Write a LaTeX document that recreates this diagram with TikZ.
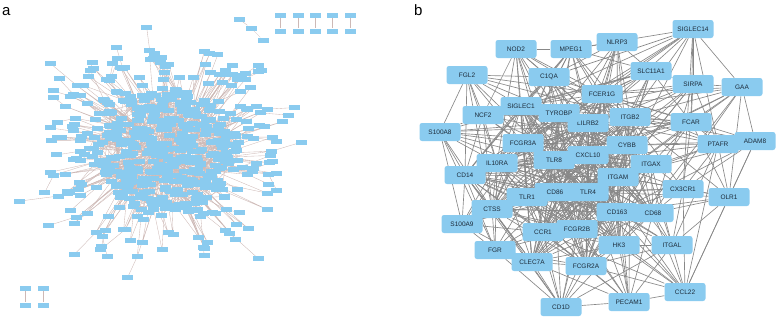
\documentclass[tikz,border=0pt]{standalone}
\usepackage{fontspec}
\setmainfont{Liberation Sans}
\usetikzlibrary{positioning}
\definecolor{geneBlue}{HTML}{8ACBEF}
\definecolor{edgeGrey}{HTML}{888888}
\definecolor{edgeRose}{HTML}{CDB9B6}
\definecolor{labelInk}{HTML}{1C2B3A}
\pgfdeclarelayer{edges}
\pgfsetlayers{edges,main}

\begin{document}
\begin{tikzpicture}[
    x=1pt,y=-1pt,
    gene/.style={fill=geneBlue,rounded corners=2.5pt,minimum width=41pt,
      minimum height=18pt,inner sep=0pt,text=labelInk,
      font=\fontsize{6.5}{7}\selectfont},
    mini/.style={fill=geneBlue,minimum width=11pt,minimum height=5pt,inner sep=0pt},
    link/.style={draw=edgeGrey,line width=0.65pt},
    alink/.style={draw=edgeRose,line width=0.35pt},
    panel/.style={font=\fontsize{15}{15}\selectfont,anchor=base west,inner sep=0pt}
  ]
  \useasboundingbox (0,0) rectangle (777,319);
  \node[panel] (lbla) at (2,15) {a};
  \node[panel] (lblb) at (414,15) {b};

  % panel a: dense core, ordered by angle
  \pgfmathsetseed{11}
  \foreach \i in {1,...,380}{
    \pgfmathsetmacro{\ang}{0.947*\i+10*rnd}
    \pgfmathsetmacro{\rad}{sqrt(rnd)}
    \node[mini] (c\i) at ({166+74*\rad*cos(\ang)},{152+64*\rad*sin(\ang)}) {};
  }
  \begin{pgfonlayer}{edges}
    \foreach \i in {1,...,380}{
      \pgfmathtruncatemacro{\j}{mod(\i+random(1,40),380)+1}
      \pgfmathtruncatemacro{\k}{random(1,380)}
      \draw[alink] (c\i.center) -- (c\j.center) (c\i.center) -- (c\k.center);
    }
  \end{pgfonlayer}
  % panel a: outer ring and leaves
  \foreach \i in {1,...,140}{
    \pgfmathsetmacro{\ang}{360*rnd}
    \pgfmathsetmacro{\rad}{1.0+0.6*rnd}
    \node[mini] (r\i) at ({166+76*\rad*cos(\ang)},{152+68*\rad*sin(\ang)}) {};
    \pgfmathtruncatemacro{\j}{mod(round(\ang/0.947)+random(0,16)+372,380)+1}
    \pgfmathtruncatemacro{\k}{mod(round(\ang/0.947)+random(0,16)+372,380)+1}
    \begin{pgfonlayer}{edges}
      \draw[alink] (r\i.center) -- (c\j.center) (r\i.center) -- (c\k.center);
    \end{pgfonlayer}
    \pgfmathtruncatemacro{\leaf}{rnd<0.35}
    \ifnum\leaf=1
      \pgfmathsetmacro{\lang}{\ang+16*rnd-8}
      \pgfmathsetmacro{\lrad}{\rad+0.25+0.45*rnd}
      \node[mini] (l\i) at ({166+70*\lrad*cos(\lang)},{152+63*\lrad*sin(\lang)}) {};
      \begin{pgfonlayer}{edges}
        \draw[alink] (l\i.center) -- (r\i.center);
      \end{pgfonlayer}
    \fi
  }
  % panel a: small components
  \node[mini] (t1) at (239,19) {};
  \node[mini] (t2) at (251,28) {};
  \node[mini] (t3) at (263,40) {};
  \draw[alink] (t1) -- (t2) -- (t3);
  \foreach \x [count=\n] in {280,298,315,332,350}{
    \node[mini] (pu\n) at (\x,15) {};
    \node[mini] (pd\n) at (\x,31) {};
    \draw[alink] (pu\n) -- (pd\n);
  }
  \foreach \x [count=\n] in {25,43}{
    \node[mini] (qu\n) at (\x,288) {};
    \node[mini] (qd\n) at (\x,305) {};
    \draw[alink] (qu\n) -- (qd\n);
  }

  % panel b
  \node[gene] (siglec14) at (693,29) {SIGLEC14};
  \node[gene] (nod2) at (516,49) {NOD2};
  \node[gene] (mpeg1) at (571,49) {MPEG1};
  \node[gene] (nlrp3) at (617,42) {NLRP3};
  \node[gene] (fgl2) at (467,75) {FGL2};
  \node[gene] (c1qa) at (549,77) {C1QA};
  \node[gene] (slc11a1) at (651,71) {SLC11A1};
  \node[gene] (sirpa) at (693,84) {SIRPA};
  \node[gene] (gaa) at (742,87) {GAA};
  \node[gene] (fcer1g) at (602,94) {FCER1G};
  \node[gene] (siglec1) at (521,106) {SIGLEC1};
  \node[gene] (ncf2) at (483,115) {NCF2};
  \node[gene] (lilrb2) at (588,123) {LILRB2};
  \node[gene] (tyrobp) at (559,113) {TYROBP};
  \node[gene] (itgb2) at (630,117) {ITGB2};
  \node[gene] (fcar) at (691,122) {FCAR};
  \node[gene] (s100a8) at (440,132) {S100A8};
  \node[gene] (adam8) at (755,141) {ADAM8};
  \node[gene] (ptafr) at (718,144) {PTAFR};
  \node[gene] (fcgr3a) at (523,143) {FCGR3A};
  \node[gene] (cybb) at (627,145) {CYBB};
  \node[gene] (cxcl10) at (588,155) {CXCL10};
  \node[gene] (tlr8) at (554,160) {TLR8};
  \node[gene] (il10ra) at (497,163) {IL10RA};
  \node[gene] (itgax) at (651,164) {ITGAX};
  \node[gene] (cd14) at (465,175) {CD14};
  \node[gene] (itgam) at (618,177) {ITGAM};
  \node[gene] (cx3cr1) at (683,189) {CX3CR1};
  \node[gene] (olr1) at (729,197) {OLR1};
  \node[gene] (tlr1) at (527,197) {TLR1};
  \node[gene] (cd86) at (555,192) {CD86};
  \node[gene] (tlr4) at (588,192) {TLR4};
  \node[gene] (ctss) at (492,209) {CTSS};
  \node[gene] (cd163) at (617,212) {CD163};
  \node[gene] (cd68) at (653,213) {CD68};
  \node[gene] (s100a9) at (462,224) {S100A9};
  \node[gene] (ccr1) at (543,232) {CCR1};
  \node[gene] (fcgr2b) at (577,229) {FCGR2B};
  \node[gene] (hk3) at (619,245) {HK3};
  \node[gene] (itgal) at (672,245) {ITGAL};
  \node[gene] (fgr) at (495,250) {FGR};
  \node[gene] (clec7a) at (532,262) {CLEC7A};
  \node[gene] (fcgr2a) at (586,266) {FCGR2A};
  \node[gene] (ccl22) at (685,292) {CCL22};
  \node[gene] (pecam1) at (629,302) {PECAM1};
  \node[gene] (cd1d) at (561,307) {CD1D};

  \def\hubs{tyrobp,fcer1g,itgb2,lilrb2,cybb,cxcl10,tlr8,fcgr3a,siglec1,il10ra,cd14,itgax,itgam,tlr1,cd86,tlr4,ctss,cd163,cd68,ccr1,fcgr2b,hk3,fcgr2a,clec7a}
  \begin{pgfonlayer}{edges}
    \foreach \u [count=\i] in \hubs{
      \foreach \v [count=\j] in \hubs{
        \ifnum\j>\i \draw[link] (\u) -- (\v); \fi
      }
    }
    \foreach \p/\hs in {
      siglec14/{fcer1g,tyrobp,lilrb2,itgb2,c1qa,siglec1,fcgr3a,mpeg1,sirpa,fcar,ptafr,cx3cr1,itgam},
      nod2/{mpeg1,tyrobp,c1qa,siglec1,tlr8,tlr4,cd86,fcer1g,itgb2,tlr1,cybb,ncf2,il10ra},
      mpeg1/{nlrp3,c1qa,tyrobp,fcer1g,lilrb2,itgb2,cybb,cd14,tlr8,siglec1,fcgr3a,slc11a1,ctss,cd163},
      nlrp3/{fcer1g,tyrobp,lilrb2,itgb2,cybb,tlr4,tlr8,cxcl10,slc11a1,itgam,c1qa},
      fgl2/{ncf2,s100a8,cd14,tyrobp,fcer1g,tlr4,siglec1,fcgr3a,il10ra,ctss,c1qa,itgb2},
      c1qa/{tyrobp,fcer1g,itgb2,cybb,fcgr3a,fcgr2b,cd163,cd14,cd86,siglec1,ctss,cd68,itgam},
      slc11a1/{fcer1g,tyrobp,itgb2,cybb,itgam,tlr4,ncf2,sirpa,fcar,cd14,s100a8,siglec1,lilrb2},
      sirpa/{tyrobp,fcer1g,itgb2,cd14,cd86,itgam,fcar,cybb,fcgr2b,cd68,ptafr},
      gaa/{fcer1g,tyrobp,itgb2,cybb,ctss,cd68,hk3,itgam,sirpa,fcar,siglec14},
      fcar/{fcer1g,itgb2,tyrobp,cybb,itgam,itgax,ptafr,cx3cr1,fcgr3a,fcgr2a,cd14,s100a8},
      s100a8/{s100a9,ncf2,cd14,tlr4,itgam,itgb2,cybb,fcgr3a,ctss,fgr,il10ra},
      adam8/{itgb2,itgam,fcer1g,cybb,ptafr,olr1,cd163,ccl22,cx3cr1,gaa},
      ptafr/{fcer1g,tyrobp,itgb2,itgam,cybb,cx3cr1,olr1,ccl22,itgal,cd14,tlr4},
      ncf2/{s100a8,cd14,cybb,itgam,itgb2,tlr4,siglec1,fcgr3a,il10ra,tyrobp,ctss},
      olr1/{itgam,itgb2,tlr4,cd68,cd163,ccl22,itgal,cx3cr1,fcar,gaa},
      cx3cr1/{itgam,itgb2,tlr4,cd86,cd68,cd163,ccl22,itgal,cxcl10,itgax},
      s100a9/{cd14,ctss,fgr,tlr4,itgam,cd86,fcgr3a,il10ra,ccr1,clec7a},
      fgr/{ctss,ccr1,clec7a,fcgr2a,fcgr2b,cd1d,itgam,itgb2,tlr1,cd14,il10ra},
      itgal/{itgb2,itgam,itgax,cd68,cd163,hk3,ccl22,pecam1,cd1d,fcgr2a,cd86,tlr4},
      ccl22/{cd68,cd163,hk3,fcgr2a,pecam1,cd86,tlr4,ccr1,cxcl10},
      pecam1/{cd1d,hk3,fcgr2a,fcgr2b,itgam,itgb2,cd68,cd163,ccr1,clec7a,cd86,tlr4},
      cd1d/{clec7a,fcgr2a,ccr1,cd86,tlr1,ctss,fcgr2b,hk3,itgam,cd14,tlr4}}{
      \foreach \h in \hs {\draw[link] (\p) -- (\h);}
    }
  \end{pgfonlayer}
\end{tikzpicture}
\end{document}
